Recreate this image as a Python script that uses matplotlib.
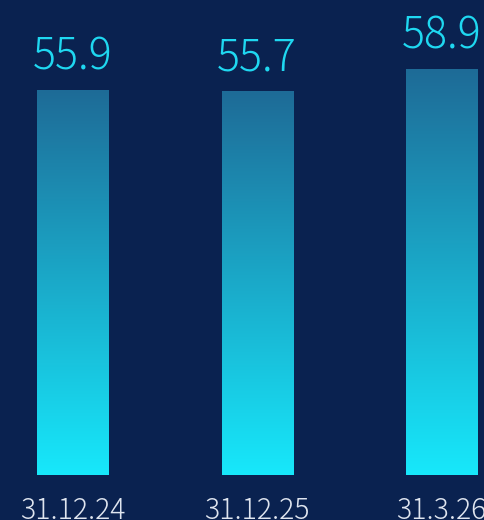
import matplotlib.pyplot as plt
import numpy as np
from matplotlib.colors import LinearSegmentedColormap

categories = ["31.12.24", "31.12.25", "31.3.26"]
values = [55.9, 55.7, 58.9]

bg = "#0a2250"
cmap = LinearSegmentedColormap.from_list("bar", ["#17e8fb", "#1e6b97"])
font = "Noto Sans CJK JP"

fig = plt.figure(figsize=(4.84, 5.20), dpi=100)
fig.patch.set_facecolor(bg)
ax = fig.add_axes([0, 0, 1, 1])
ax.set_facecolor(bg)

x = np.arange(len(categories))
bars = ax.bar(x, values, width=0.385, color="none")

grad = np.linspace(0, 1, 256).reshape(-1, 1)
for b in bars:
    x0, w, h = b.get_x(), b.get_width(), b.get_height()
    im = ax.imshow(grad, cmap=cmap, aspect="auto", origin="lower",
                   extent=[x0, x0 + w, 0, h], zorder=2)
    im.set_clip_path(b)

for xi, v in zip(x, values):
    ax.text(xi, v + 3.0, f"{v}", ha="center", va="baseline",
            fontsize=31, color="#1fd8f1", family=font, fontweight="light")

for xi, c in zip(x, categories):
    ax.text(xi, -6.35, c, ha="center", va="baseline",
            fontsize=20.5, color="#dfe5ef", family=font, fontweight="light")

ax.set_xlim(-0.393, 2.230)
ax.set_ylim(-6.53, 68.97)
ax.axis("off")

fig.savefig("out.png", dpi=100, facecolor=bg)
